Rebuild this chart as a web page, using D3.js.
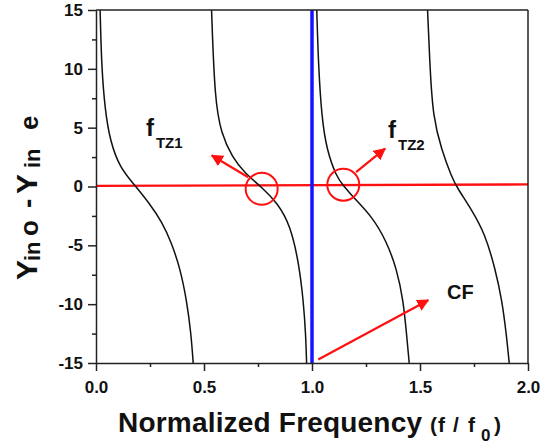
<!DOCTYPE html>
<html><head><meta charset="utf-8">
<script src="https://cdn.jsdelivr.net/npm/d3@7"></script>
<style>
html,body{margin:0;padding:0;background:#fff;}
svg{display:block;}
text{font-family:Arial,"Liberation Sans",sans-serif;font-weight:bold;fill:#111;}
</style></head>
<body>
<svg id="chart" width="549" height="446"></svg>
<script>
// ---- data ----
const xTicks = [0, 0.5, 1.0, 1.5, 2.0];
const xTickLabels = ["0.0", "0.5", "1.0", "1.5", "2.0"];
const yTicks = [-15, -10, -5, 0, 5, 10, 15];
const yTickLabels = ["-15", "-10", "-5", "0", "5", "10", "15"];
const xMinor = [0.25, 0.75, 1.25, 1.75];
const yMinor = [-12.5, -7.5, -2.5, 2.5, 7.5, 12.5];

const branch1 = [[0.019,15],[0.026,10.1],[0.042,6.5],[0.065,3.9],[0.11,1.6],[0.18,0.1],[0.25,-1.5],[0.305,-3.0],[0.35,-4.8],[0.39,-7.0],[0.42,-9.7],[0.44,-12.5],[0.45,-15]];
const branch2 = [[0.535,15],[0.55,7.3],[0.58,4.5],[0.63,2.5],[0.69,1.1],[0.767,-0.05],[0.84,-1.4],[0.9,-3.3],[0.94,-6.6],[0.96,-9.7],[0.971,-12.6],[0.975,-15]];
const branch3 = [[1.022,15],[1.03,10.2],[1.045,5.9],[1.068,3.1],[1.114,0.8],[1.145,0.08],[1.19,-0.9],[1.28,-2.6],[1.346,-4.7],[1.392,-7.0],[1.423,-9.7],[1.438,-12.6],[1.45,-15]];
const branch4 = [[1.535,15],[1.546,10.2],[1.56,5.9],[1.6,3.1],[1.647,0.8],[1.67,-0.05],[1.74,-2.0],[1.80,-4.0],[1.847,-6.9],[1.88,-9.7],[1.90,-12.6],[1.913,-15]];
const branches = [branch1, branch2, branch3, branch4];

const redLine = [[0, 0.05], [2, 0.18]];
const blueLine = [[1.0, 15], [1.0, -15]];
const circleCenters = [[0.767, -0.2], [1.145, 0.15]];
const arrows = [
  {from: [0.705, 0.79], to: [0.536, 2.64]},
  {from: [1.204, 1.22], to: [1.338, 3.21]},
  {from: [1.029, -14.7], to: [1.538, -9.66]}
];
const fLabels = [
  {x: 0.231, y: 4.26, sub: "TZ1"},
  {x: 1.352, y: 4.09, sub: "TZ2"}
];
const cfLabel = {x: 1.625, y: -9.55, text: "CF"};

// ---- layout ----
const svg = d3.select("#chart");
const L = 96, R = 528, T = 10, B = 363;
const x = d3.scaleLinear().domain([0, 2]).range([L, R]);
const y = d3.scaleLinear().domain([-15, 15]).range([B, T]);
const AX = "#222";

svg.append("defs").append("clipPath").attr("id", "clip")
  .append("rect").attr("x", L).attr("y", T).attr("width", R - L).attr("height", B - T);
svg.select("defs").append("marker").attr("id", "arrow")
  .attr("viewBox", "0 0 10 10").attr("refX", 9).attr("refY", 5)
  .attr("markerWidth", 5.5).attr("markerHeight", 5.5).attr("orient", "auto")
  .attr("markerUnits", "strokeWidth")
  .append("path").attr("d", "M0,0 L10,5 L0,10 Z").attr("fill", "#ff1010");

const plot = svg.append("g").attr("clip-path", "url(#clip)");

// red horizontal line
plot.append("line")
  .attr("x1", x(redLine[0][0])).attr("y1", y(redLine[0][1]))
  .attr("x2", x(redLine[1][0])).attr("y2", y(redLine[1][1]))
  .attr("stroke", "#ff1010").attr("stroke-width", 2.4);

// branches
const line = d3.line().x(d => x(d[0])).y(d => y(d[1])).curve(d3.curveBasis);
branches.forEach(b => {
  plot.append("path").attr("d", line(b)).attr("fill", "none")
    .attr("stroke", "#111").attr("stroke-width", 1.5);
});

// blue line
plot.append("line")
  .attr("x1", x(blueLine[0][0])).attr("y1", y(blueLine[0][1]))
  .attr("x2", x(blueLine[1][0])).attr("y2", y(blueLine[1][1]))
  .attr("stroke", "#1414ff").attr("stroke-width", 3.5);

// circles
circleCenters.forEach(c => {
  svg.append("circle").attr("cx", x(c[0])).attr("cy", y(c[1])).attr("r", 16)
    .attr("fill", "none").attr("stroke", "#ff1010").attr("stroke-width", 2);
});

// arrows
arrows.forEach(a => {
  svg.append("line")
    .attr("x1", x(a.from[0])).attr("y1", y(a.from[1]))
    .attr("x2", x(a.to[0])).attr("y2", y(a.to[1]))
    .attr("stroke", "#ff1010").attr("stroke-width", 2.2)
    .attr("marker-end", "url(#arrow)");
});

// axes
const xAxis = d3.axisBottom(x).tickValues(xTicks).tickFormat((d, i) => xTickLabels[i]).tickSize(8).tickSizeOuter(0);
const gx = svg.append("g").attr("transform", `translate(0,${B})`).call(xAxis);
gx.selectAll("text").attr("font-size", 17).attr("dy", null).attr("y", 30).style("font-family", "Arial, 'Liberation Sans', sans-serif").style("font-weight", "bold").attr("fill", "#111");
const xAxisMinor = d3.axisBottom(x).tickValues(xMinor).tickFormat("").tickSize(4).tickSizeOuter(0);
svg.append("g").attr("transform", `translate(0,${B})`).call(xAxisMinor).select(".domain").remove();

const yAxis = d3.axisLeft(y).tickValues(yTicks).tickFormat((d, i) => yTickLabels[i]).tickSize(8).tickSizeOuter(0);
const gy = svg.append("g").attr("transform", `translate(${L},0)`).call(yAxis);
gy.selectAll("text").attr("font-size", 17).attr("x", -13).style("font-family", "Arial, 'Liberation Sans', sans-serif").style("font-weight", "bold").attr("fill", "#111");
const yAxisMinor = d3.axisLeft(y).tickValues(yMinor).tickFormat("").tickSize(4).tickSizeOuter(0);
svg.append("g").attr("transform", `translate(${L},0)`).call(yAxisMinor).select(".domain").remove();

svg.selectAll(".domain, .tick line").attr("stroke", AX).attr("stroke-width", 1.5);

// top and right frame
svg.append("line").attr("x1", L).attr("x2", R).attr("y1", T).attr("y2", T).attr("stroke", AX).attr("stroke-width", 1.5);
svg.append("line").attr("x1", R).attr("x2", R).attr("y1", T).attr("y2", B).attr("stroke", AX).attr("stroke-width", 1.5);

// annotation labels
fLabels.forEach(f => {
  const t = svg.append("text").attr("x", x(f.x)).attr("y", y(f.y)).attr("font-size", 24);
  t.append("tspan").text("f");
  t.append("tspan").attr("font-size", 15).attr("dx", 2).attr("dy", 12).text(f.sub);
});
svg.append("text").attr("x", x(cfLabel.x)).attr("y", y(cfLabel.y)).attr("font-size", 20).text(cfLabel.text);

// x title
const xt = svg.append("g");
xt.append("text").attr("x", 118).attr("y", 432).attr("font-size", 28).attr("textLength", 304).text("Normalized Frequency");
xt.append("text").attr("x", 430).attr("y", 432).attr("font-size", 21).text("(");
xt.append("text").attr("x", 438).attr("y", 432).attr("font-size", 21).text("f");
xt.append("text").attr("x", 453).attr("y", 432).attr("font-size", 21).text("/");
xt.append("text").attr("x", 468).attr("y", 432).attr("font-size", 21).text("f");
xt.append("text").attr("x", 481).attr("y", 441).attr("font-size", 17).text("0");
xt.append("text").attr("x", 494).attr("y", 432).attr("font-size", 21).text(")");

// y title (rotated)
const yt = svg.append("g").attr("transform", "rotate(-90)");
const ytParts = [
  {t: "Y", pos: 280, size: 30, base: 37},
  {t: "in", pos: 261, size: 22, base: 40},
  {t: "o", pos: 236, size: 26, base: 38},
  {t: "-", pos: 208, size: 28, base: 37},
  {t: "Y", pos: 194, size: 30, base: 37},
  {t: "in", pos: 168, size: 22, base: 40},
  {t: "e", pos: 130, size: 26, base: 38}
];
ytParts.forEach(p => {
  yt.append("text").attr("x", -p.pos).attr("y", p.base).attr("font-size", p.size).text(p.t);
});
</script>
</body></html>
